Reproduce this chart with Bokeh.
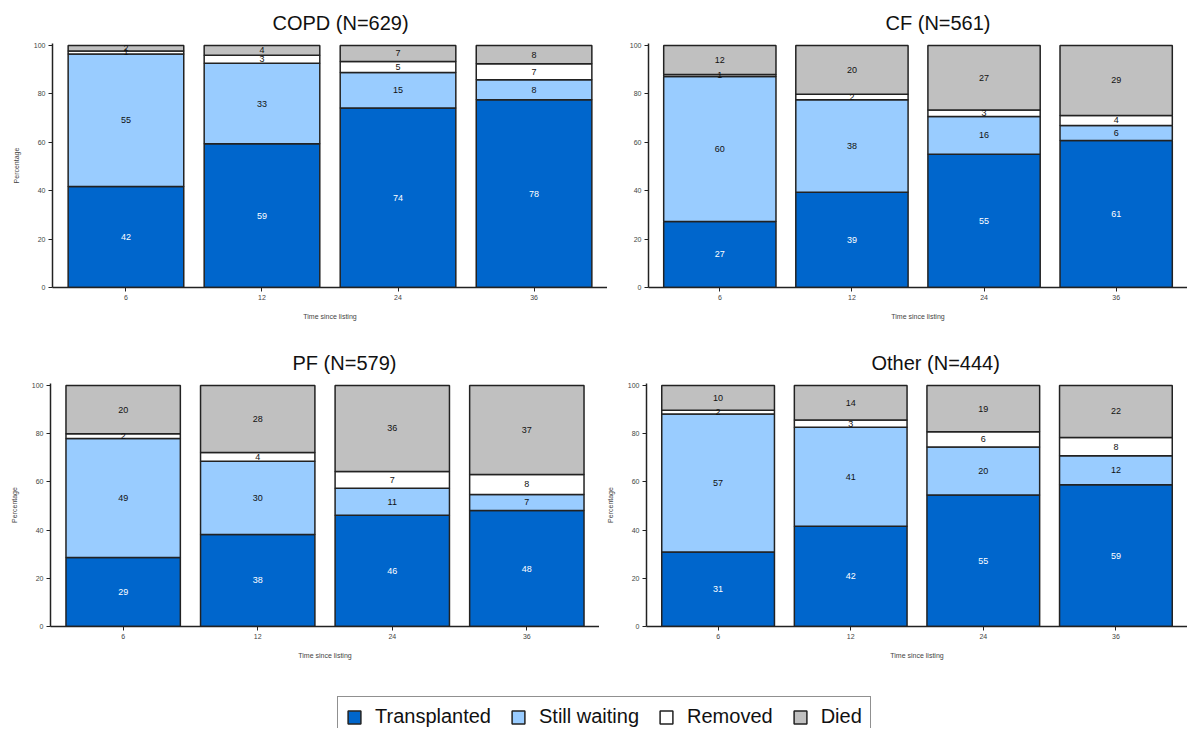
import numpy as np
from bokeh.plotting import figure
from bokeh.models import ColumnDataSource, FactorRange, Range1d, Legend, LegendItem
from bokeh.layouts import column, row
from bokeh.embed import file_html
from bokeh.resources import INLINE
from bokeh.core.properties import value

# ---------------- data ----------------
months = ["6", "12", "24", "36"]
statuses = ["Transplanted", "Still waiting", "Removed", "Died"]
keys = ["transplanted", "waiting", "removed", "died"]
colors = ["#0066CC", "#99CCFF", "#FFFFFF", "#C0C0C0"]
label_colors = ["#FFFFFF", "#111111", "#111111", "#111111"]

copd_transplanted = [41.7, 59.4, 74.2, 77.6]
copd_waiting = [54.8, 33.2, 14.6, 8.2]
copd_removed = [1.2, 3.3, 4.6, 6.6]
copd_died = [2.3, 4.1, 6.6, 7.6]

cf_transplanted = [27.3, 39.4, 55.0, 60.7]
cf_waiting = [59.9, 38.2, 15.6, 6.2]
cf_removed = [0.8, 2.2, 2.7, 4.2]
cf_died = [12.0, 20.2, 26.7, 28.9]

pf_transplanted = [28.6, 38.2, 46.1, 48.1]
pf_waiting = [49.4, 30.3, 11.2, 6.7]
pf_removed = [2.0, 3.7, 7.0, 8.3]
pf_died = [20.0, 27.8, 35.7, 36.9]

other_transplanted = [30.9, 41.6, 54.6, 58.8]
other_waiting = [57.2, 41.1, 19.9, 12.0]
other_removed = [1.6, 3.0, 6.3, 7.6]
other_died = [10.3, 14.3, 19.2, 21.6]

titles = ["COPD (N=629)", "CF (N=561)", "PF (N=579)", "Other (N=444)"]
y_ticks = [0, 20, 40, 60, 80, 100]
x_title = "Time since listing"
y_title = "Percentage"

FONT = "Liberation Sans"


def make_panel(title, series, frame_w, frame_h, b_left, b_top, b_bottom,
               title_offset, ylabel):
    p = figure(
        x_range=FactorRange(factors=months, range_padding=0.04,
                            range_padding_units="absolute"),
        y_range=Range1d(0, 100.8),
        frame_width=frame_w, frame_height=frame_h,
        min_border_left=b_left, min_border_right=0,
        min_border_top=b_top, min_border_bottom=b_bottom,
        toolbar_location=None, output_backend="svg", tools="",
    )
    p.title.text = title
    p.title.align = "left"
    p.title.offset = title_offset
    p.title.standoff = 19
    p.title.text_font = FONT
    p.title.text_font_size = "20px"
    p.title.text_font_style = "normal"
    p.title.text_color = "#111111"

    p.outline_line_color = None
    p.xgrid.visible = False
    p.ygrid.visible = False

    data = dict(month=months)
    for k, s in zip(keys, series):
        data[k] = s
    src = ColumnDataSource(data)
    p.vbar_stack(keys, x="month", width=0.85, color=colors, source=src,
                 line_color="#222222", line_width=1.5)

    arr = np.array(series, dtype=float)
    bottoms = np.cumsum(arr, axis=0) - arr
    mids = bottoms + arr / 2.0
    for i in range(len(keys)):
        txt = [str(int(np.floor(v + 0.5))) for v in arr[i]]
        p.text(x=months, y=list(mids[i]), text=txt,
               text_font=value(FONT), text_font_size="9px",
               text_align="center", text_baseline="middle",
               text_color=label_colors[i])

    for ax in (p.xaxis[0], p.yaxis[0]):
        ax.axis_line_color = "#222222"
        ax.axis_line_width = 1.5
        ax.major_tick_line_color = "#222222"
        ax.major_tick_in = 0
        ax.major_tick_out = 4
        ax.minor_tick_in = 0
        ax.minor_tick_out = 0
        ax.major_label_text_font = FONT
        ax.major_label_text_font_size = "7px"
        ax.major_label_text_color = "#444444"
        ax.major_label_standoff = 3
        ax.axis_label_text_font = FONT
        ax.axis_label_text_font_size = "7px"
        ax.axis_label_text_font_style = "normal"
        ax.axis_label_text_color = "#444444"

    p.yaxis.ticker = y_ticks
    if ylabel:
        p.yaxis.axis_label = ylabel
    p.yaxis.axis_label_standoff = 11
    p.xaxis.axis_label = x_title
    p.xaxis.axis_label_standoff = 10
    return p


p1 = make_panel(titles[0], [copd_transplanted, copd_waiting, copd_removed, copd_died],
                555, 244, 52, 43, 50, 220, y_title)
p2 = make_panel(titles[1], [cf_transplanted, cf_waiting, cf_removed, cf_died],
                539, 244, 41, 43, 50, 237, None)
p3 = make_panel(titles[2], [pf_transplanted, pf_waiting, pf_removed, pf_died],
                549, 243, 50, 46, 54, 242, y_title)
p4 = make_panel(titles[3], [other_transplanted, other_waiting, other_removed, other_died],
                541, 243, 47, 46, 54, 225, y_title)

# ---------------- legend ----------------
lg = figure(width=1187, height=48, toolbar_location=None, output_backend="svg",
            x_axis_location=None, y_axis_location=None, min_border=0, tools="",
            x_range=Range1d(0, 1), y_range=Range1d(0, 1))
lg.outline_line_color = None
lg.grid.visible = False
items = []
for s, c in zip(statuses, colors):
    # hidden renderer: only its legend swatch is shown
    r = lg.vbar(x=[0.5], top=[1], width=0.5, fill_color=c, line_color="#222222",
                line_width=1.5)
    r.visible = False
    items.append(LegendItem(label=s, renderers=[r]))
legend = Legend(items=items, orientation="horizontal", location=(337, -9),
                label_text_font=FONT, label_text_font_size="20px",
                label_text_color="#111111", glyph_width=16, glyph_height=16,
                label_standoff=13, spacing=19, padding=8, margin=0,
                border_line_color="#222222", border_line_width=1,
                background_fill_color="#FFFFFF", background_fill_alpha=1)
lg.add_layout(legend, "center")

layout = column(row(p1, p2), row(p3, p4), lg)

open("out.html", "w").write(file_html(layout, INLINE))
